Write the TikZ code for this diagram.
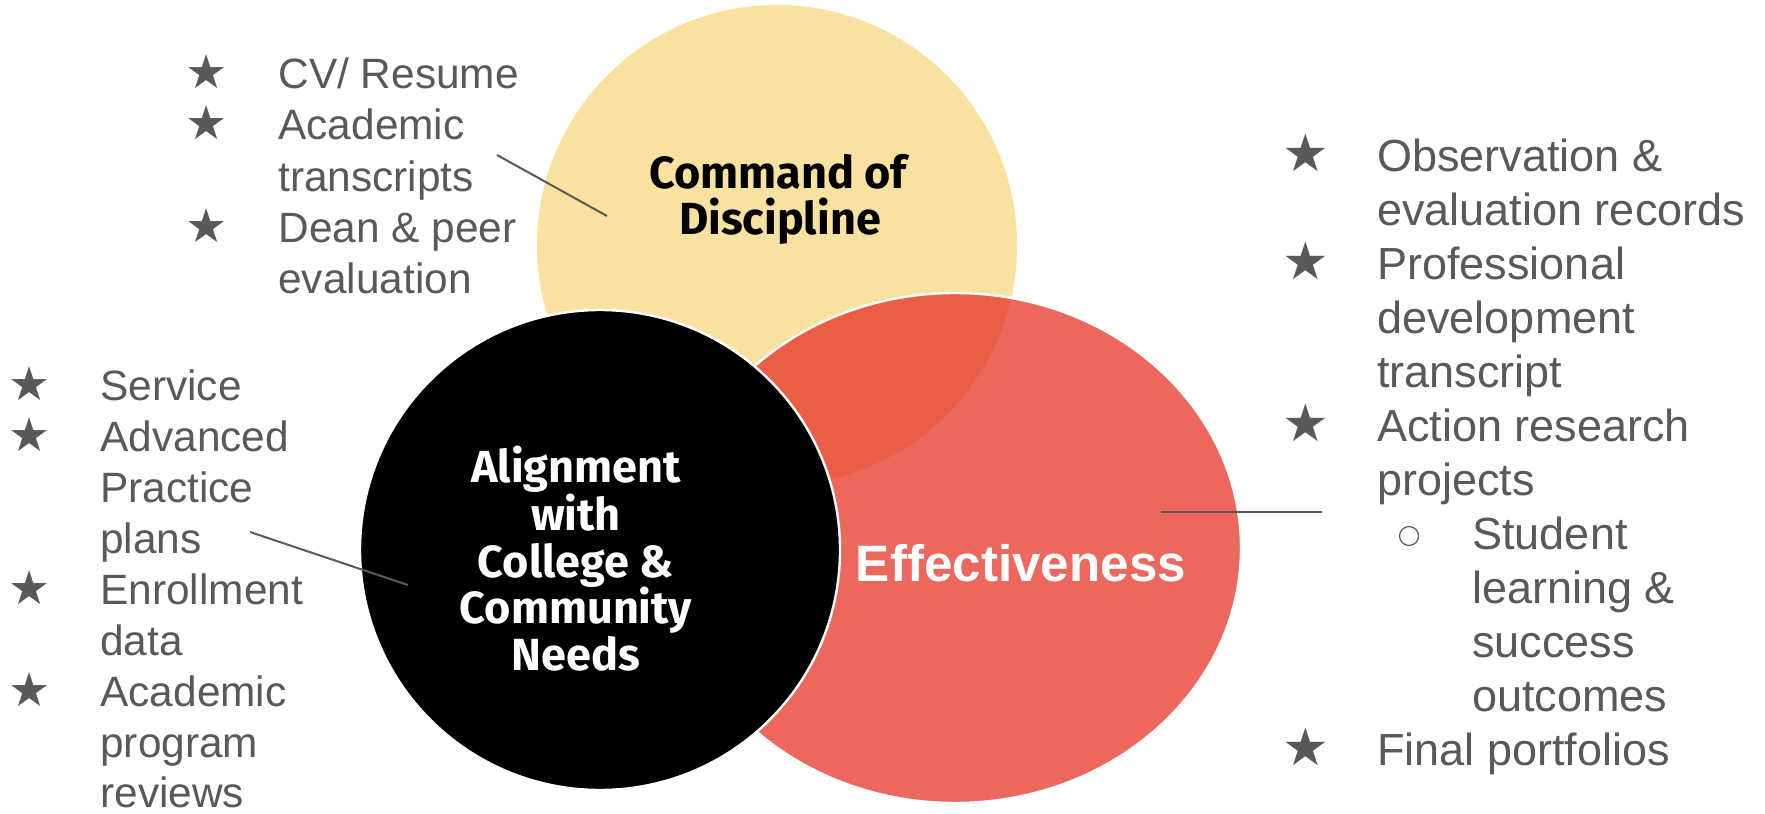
\documentclass[tikz,border=0pt]{standalone}
\usepackage{fontspec}
\setmainfont{Liberation Sans}
\newfontfamily\headfont{Fira Sans}
\newfontfamily\symfont{DejaVu Sans}
\definecolor{listgray}{HTML}{595959}
\definecolor{discyellow}{HTML}{F9E1A0}
\definecolor{effred}{HTML}{EC675D}
\definecolor{overlapred}{HTML}{EB5E45}
\begin{document}
\begin{tikzpicture}[x=0.5pt,y=-0.5pt,
  leftitem/.style={anchor=base west, inner sep=0pt, text=listgray, font=\fontsize{21.2}{25}\selectfont},
  rightitem/.style={anchor=base west, inner sep=0pt, text=listgray, font=\fontsize{22.5}{27}\selectfont},
  leftstar/.style={anchor=base, inner sep=0pt, text=listgray, font=\symfont\fontsize{23.5}{24}\selectfont},
  rightstar/.style={anchor=base, inner sep=0pt, text=listgray, font=\symfont\fontsize{26}{27}\selectfont},
  headline/.style={anchor=base, inner sep=0pt},
  leader/.style={draw=listgray, line width=1pt}]
\fill[white] (0,0) rectangle (1765,813);
\useasboundingbox (0,0) rectangle (1765,813);

% the three circles
\fill[discyellow] (777,245) circle[radius=120pt];
\fill[effred] (955,548) ellipse[x radius=143pt, y radius=127.5pt];
\begin{scope}
  \clip (777,245) circle[radius=120pt];
  \fill[overlapred] (955,548) ellipse[x radius=143pt, y radius=127.5pt];
\end{scope}
\draw[white, line width=1.2pt] (955,548) ellipse[x radius=143pt, y radius=127.5pt];
\filldraw[fill=black, draw=white, line width=1.2pt] (600,550) circle[radius=120pt];

% circle titles
\begin{scope}[font=\headfont\bfseries\fontsize{22.5}{24}\selectfont]
  \node[headline] (cmd1) at (778,188) {Command of};
  \node[headline] (cmd2) at (780,234) {Discipline};
\end{scope}
\begin{scope}[font=\headfont\bfseries\fontsize{22.5}{24}\selectfont, text=white]
  \node[headline] (al1) at (576,482) {Alignment};
  \node[headline] (al2) at (576,530) {with};
  \node[headline] (al3) at (576,577) {College \&};
  \node[headline] (al4) at (576,623) {Community};
  \node[headline] (al5) at (576,670) {Needs};
\end{scope}
\node[headline, text=white, font=\bfseries\fontsize{25.6}{26}\selectfont] (eff) at (1021,581) {Effectiveness};

% evidence for command of discipline
\node[leftstar] (ts1) at (207,89) {★};
\node[leftitem] (tl1) at (278,89) {CV/ Resume};
\node[leftstar] (ts2) at (207,140) {★};
\node[leftitem] (tl2) at (278,140) {Academic};
\node[leftitem] (tl3) at (278,191) {transcripts};
\node[leftstar] (ts3) at (207,242) {★};
\node[leftitem] (tl4) at (278,242) {Dean \& peer};
\node[leftitem] (tl5) at (278,293) {evaluation};

% evidence for alignment
\node[leftstar] (bs1) at (30,400) {★};
\node[leftitem] (bl1) at (100,400) {Service};
\node[leftstar] (bs2) at (30,451) {★};
\node[leftitem] (bl2) at (100,451) {Advanced};
\node[leftitem] (bl3) at (100,502) {Practice};
\node[leftitem] (bl4) at (100,553) {plans};
\node[leftstar] (bs3) at (30,604) {★};
\node[leftitem] (bl5) at (100,604) {Enrollment};
\node[leftitem] (bl6) at (100,655) {data};
\node[leftstar] (bs4) at (30,706) {★};
\node[leftitem] (bl7) at (100,706) {Academic};
\node[leftitem] (bl8) at (100,757) {program};
\node[leftitem] (bl9) at (100,807) {reviews};

% evidence for effectiveness
\node[rightstar] (rs1) at (1306,171) {★};
\node[rightitem] (rl1) at (1377,171) {Observation \&};
\node[rightitem] (rl2) at (1377,225) {evaluation records};
\node[rightstar] (rs2) at (1306,279) {★};
\node[rightitem] (rl3) at (1377,279) {Professional};
\node[rightitem] (rl4) at (1377,333) {development};
\node[rightitem] (rl5) at (1377,387) {transcript};
\node[rightstar] (rs3) at (1306,441) {★};
\node[rightitem] (rl6) at (1377,441) {Action research};
\node[rightitem] (rl7) at (1377,495) {projects};
\node[draw=listgray, circle, minimum size=9.5pt, inner sep=0pt, line width=0.6pt] (subdot) at (1409,536) {};
\node[rightitem] (rl8) at (1472,549) {Student};
\node[rightitem] (rl9) at (1472,603) {learning \&};
\node[rightitem] (rl10) at (1472,657) {success};
\node[rightitem] (rl11) at (1472,711) {outcomes};
\node[rightstar] (rs4) at (1306,765) {★};
\node[rightitem] (rl12) at (1377,765) {Final portfolios};

% leader lines from the lists into the circles
\coordinate (cmdFrom) at (497,155);
\coordinate (cmdTo) at (607,216);
\coordinate (alFrom) at (250,532);
\coordinate (alTo) at (408,585);
\coordinate (effFrom) at (1322,512);
\coordinate (effTo) at (1161,512);
\draw[leader] (cmdFrom) -- (cmdTo);
\draw[leader] (alFrom) -- (alTo);
\draw[leader] (effFrom) -- (effTo);
\end{tikzpicture}
\end{document}
